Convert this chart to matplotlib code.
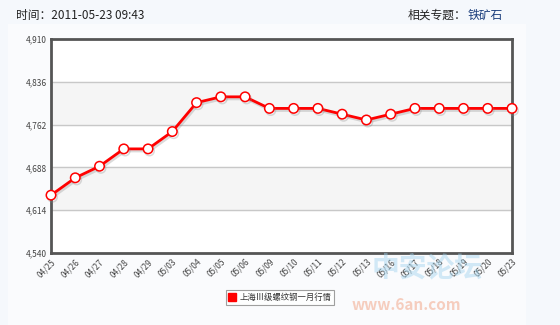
import matplotlib
matplotlib.use("Agg")
import matplotlib.pyplot as plt
import matplotlib.patheffects as pe
from matplotlib.lines import Line2D

plt.rcParams['font.family'] = ['Noto Sans CJK SC', 'DejaVu Sans']

dates = ["04/25", "04/26", "04/27", "04/28", "04/29", "05/03", "05/04", "05/05",
         "05/06", "05/09", "05/10", "05/11", "05/12", "05/13", "05/16", "05/17",
         "05/18", "05/19", "05/20", "05/23"]
prices = [4640, 4670, 4690, 4720, 4720, 4750, 4800, 4810, 4810, 4790, 4790,
          4790, 4780, 4770, 4780, 4790, 4790, 4790, 4790, 4790]
yticks = [4540, 4614, 4688, 4762, 4836, 4910]
series_name = "上海Ⅲ级螺纹钢一月行情"
header_left = "时间：2011-05-23 09:43"
header_right = "相关专题："
topic = "铁矿石"

W, H = 560, 325
fig = plt.figure(figsize=(W / 100, H / 100), dpi=100)
fig.patch.set_facecolor("#f5f8fc")

# white panel
panel = fig.add_axes([8 / W, 0, (526 - 8) / W, 1 - 24 / H])
panel.set_facecolor("#fafbfd")
panel.set_xticks([]); panel.set_yticks([])
for s in panel.spines.values():
    s.set_visible(False)

fig.text(16 / W, 1 - 15 / H, header_left, fontsize=8.5, color="#222222", va="center")
fig.text(408 / W, 1 - 15 / H, header_right, fontsize=8.5, color="#222222", va="center")
fig.text(468 / W, 1 - 15 / H, topic, fontsize=8.5, color="#1a3d7c", va="center")

L, R, T, B = 51, 512, 39, 253
ax = fig.add_axes([L / W, 1 - B / H, (R - L) / W, (B - T) / H])
ax.set_facecolor("white")
x = list(range(len(dates)))
ax.set_xlim(0, len(dates) - 1)
ax.set_ylim(yticks[0], yticks[-1])

# alternating bands
for i in range(len(yticks) - 1):
    if i % 2 == 1:
        ax.axhspan(yticks[i], yticks[i + 1], color="#f5f5f5", zorder=0)
for v in yticks[1:-1]:
    ax.axhline(v, color="#c8c8c8", lw=1, zorder=1)

ax.plot(x, prices, color="#ff0000", lw=2.0, marker="o", markersize=6.8,
        markerfacecolor="white", markeredgecolor="#ff0000", markeredgewidth=1.1,
        zorder=3, clip_on=False,
        path_effects=[pe.SimpleLineShadow(offset=(1, -1.5), shadow_color="#888888", alpha=0.3),
                      pe.Normal()])

ax.set_yticks(yticks)
ax.set_yticklabels([f"{v:,}" for v in yticks], fontsize=6, color="#444444")
ax.set_xticks(x)
ax.set_xticklabels(dates, rotation=45, ha="right", rotation_mode="anchor",
                   fontsize=6, color="#444444")
ax.tick_params(axis="both", length=0, pad=3)
for s in ax.spines.values():
    s.set_color("#555555")
    s.set_linewidth(2)

# watermark
fig.text(372 / W, 1 - 268 / H, "中安论坛", fontsize=20, color="#9fd3ee", alpha=0.45,
         va="center", fontweight="bold")
fig.text(352 / W, 1 - 305 / H, "www.6an.com", fontsize=11, color="#f2a080", alpha=0.5,
         va="center", fontweight="bold")

handle = Line2D([], [], marker="s", linestyle="none", markersize=6,
                markerfacecolor="#ff0000", markeredgecolor="#ff0000")
leg = fig.legend([handle], [series_name], loc="center", bbox_to_anchor=(280 / W, 1 - 297.5 / H),
                 fontsize=6, frameon=True, fancybox=False, handlelength=0.8,
                 handletextpad=0.5, borderpad=0.35, labelcolor="#333333")
leg.get_frame().set_edgecolor("#888888")
leg.get_frame().set_linewidth(0.8)

fig.savefig("out.png", dpi=100, facecolor=fig.get_facecolor())
